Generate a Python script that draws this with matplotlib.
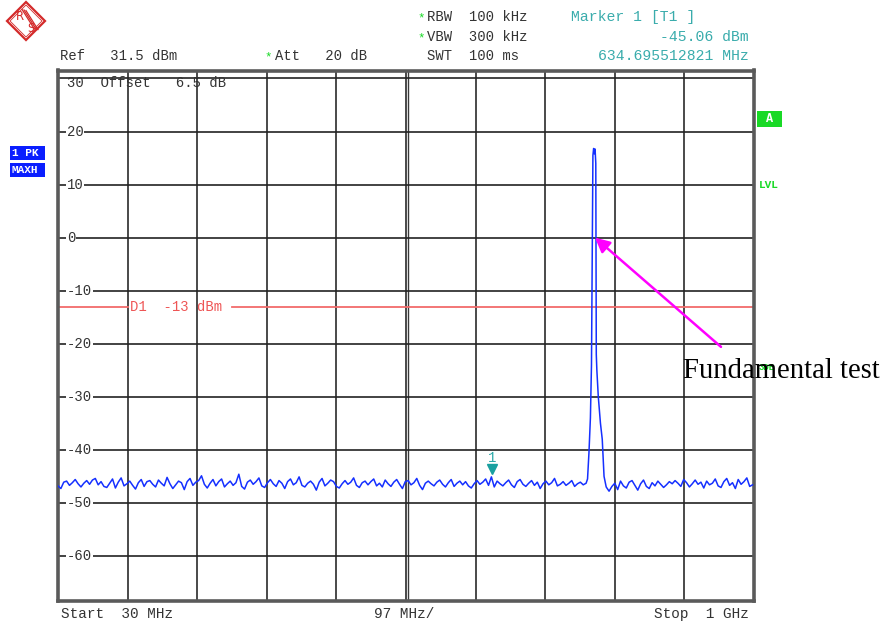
import numpy as np
import matplotlib
matplotlib.use("Agg")
import matplotlib.pyplot as plt
from matplotlib.patches import Polygon, Rectangle
from matplotlib.transforms import offset_copy, blended_transform_factory

# ---------------- data ----------------
start_mhz = 30.0
stop_mhz = 1000.0
ref_level = 31.5
y_bottom = -68.5
y_ticks = [30, 20, 10, 0, -10, -20, -30, -40, -50, -60]
x_grid = [30 + 97 * i for i in range(11)]
d1_level = -13.0

noise_step = 4.0
noise_left = [
    -46.8, -47.3, -46.1, -45.9, -46.7, -46.2, -45.6, -46.4, -47.0, -46.3,
    -45.8, -46.5, -45.7, -45.4, -46.6, -46.0, -46.9, -47.1, -46.3, -45.5,
    -47.2, -46.1, -45.3, -46.8, -46.4, -45.9, -46.7, -47.4, -46.2, -45.6,
    -46.9, -46.0, -45.8, -46.5, -47.0, -45.7, -46.3, -46.8, -45.2, -46.4,
    -47.3, -46.6, -45.9, -46.2, -47.5, -46.0, -45.4, -46.7, -46.1, -45.8,
    -44.9, -46.5, -47.2, -46.3, -45.6, -46.8, -46.0, -45.5, -47.0, -46.4,
    -45.9, -46.7, -46.2, -44.6, -46.9, -47.4, -46.1, -45.7, -46.5, -46.0,
    -45.3, -46.8, -47.1, -46.2, -45.6, -46.4, -46.9, -45.8, -46.3, -47.3,
    -46.0, -45.5, -46.6, -46.2, -45.1, -46.7, -47.0, -46.3, -45.9, -46.5,
    -47.6, -46.1, -45.4, -46.8, -46.3, -45.7, -46.0, -46.9, -47.2, -46.4,
    -45.8, -46.5, -46.1, -45.3, -46.7, -47.1, -46.2, -45.9, -46.6, -46.0,
    -45.5, -46.8, -46.3, -47.0, -45.7, -46.4, -46.9, -46.1, -45.6, -46.5,
    -47.3, -46.0, -45.8, -46.6, -46.2, -45.4, -46.7, -47.5, -46.3, -45.9,
    -46.4, -46.8, -46.1, -45.7, -46.5, -47.0, -46.2, -45.6, -46.9, -46.3,
    -45.9, -46.6, -46.0, -46.8, -47.2, -46.4, -45.8, -46.5, -46.1, -45.5,
    -46.7, -45.1, -47.0, -45.9, -46.4, -46.8, -46.2, -45.7, -46.6, -47.1,
    -46.0, -45.6, -46.5, -46.9, -46.3, -45.8, -46.7, -46.1, -47.3, -46.4,
    -45.9, -46.6, -46.2, -45.4, -46.8, -46.5, -46.0, -46.7, -46.3, -45.8,
    -46.9, -46.4, -46.1, -46.6, -46.3,
]
peak_freq = [768, 770, 772, 773.5, 774.5, 775.5, 776.5, 777.5, 778.5, 779.5,
             780.2, 781, 783, 786, 788.5, 791, 794]
peak_db = [-45.5, -40.5, -34.0, -24.0, -5.0, 15.5, 16.8, 15.8, 16.7, 14.0,
           -22.0, -25.0, -30.0, -35.0, -38.0, -45.0, -47.0]
noise_right_start = 798.0
noise_right = [
    -47.8, -46.9, -46.3, -47.5, -45.9, -46.8, -47.2, -46.1, -45.8, -46.7,
    -47.6, -46.4, -45.7, -46.9, -47.3, -46.2, -46.8, -45.9, -46.5, -47.1,
    -46.6, -46.0, -46.4, -45.8, -46.3, -46.9, -45.6, -46.2, -47.0, -46.4,
    -45.7, -46.5, -46.1, -47.2, -45.9, -46.6, -46.3, -45.5, -46.8, -47.1,
    -46.0, -45.4, -46.7, -46.2, -47.3, -45.6, -46.5, -46.0, -45.3, -46.9,
    -46.6,
]
marker_freq = 634.695512821
marker_db = -45.06
arrow_tip = (778.4, 0.0)
arrow_tail = (954.0, -20.6)

# ---------------- figure ----------------
W, H = 880, 625
fig = plt.figure(figsize=(W / 100, H / 100), dpi=100)
fig.patch.set_facecolor("white")

L, R, T, B = 58, 754, 70.5, 601
ax = fig.add_axes([L / W, 1 - B / H, (R - L) / W, (B - T) / H])
ax.set_xlim(start_mhz, stop_mhz)
ax.set_ylim(y_bottom, ref_level)
ax.set_xticks([])
ax.set_yticks([])
for s in ax.spines.values():
    s.set_color("#5a5a5a")
    s.set_linewidth(2.6)

grid_col = "#222222"
for xv in x_grid[1:-1]:
    ax.axvline(xv, color="#3a3a3a", lw=1.3, zorder=1)
# double centre line
ax.axvline(x_grid[5] + 2.8, color="#3a3a3a", lw=1.0, zorder=1)
for yv in y_ticks:
    ax.axhline(yv, color=grid_col, lw=1.2, zorder=1)

mono = "Liberation Mono"
trl = blended_transform_factory(ax.transAxes, ax.transData)
for yv in y_ticks:
    if yv == 30:
        ax.text(0.0125, yv - 0.8, "30  Offset   6.5 dB", transform=trl,
                family=mono, fontsize=10, color="#333333", va="center",
                ha="left", zorder=3)
        continue
    ax.text(0.0125, yv, str(yv), transform=trl, family=mono, fontsize=10,
            color="#333333", va="center", ha="left", zorder=3,
            bbox=dict(facecolor="white", edgecolor="none", pad=0.6))

# D1 line, split around its label
d1_gap = (x_grid[1], x_grid[1] + 146)
ax.plot([start_mhz, d1_gap[0]], [d1_level, d1_level], color="#f26b6b",
        lw=1.3, zorder=2)
ax.plot([d1_gap[1], stop_mhz], [d1_level, d1_level], color="#f26b6b",
        lw=1.3, zorder=2)
ax.text(x_grid[1] + 3, d1_level, "D1  -13 dBm", family=mono,
        fontsize=10, color="#ee5555", va="center", ha="left", zorder=3)

# trace
f_left = start_mhz + noise_step * np.arange(len(noise_left))
f_right = noise_right_start + noise_step * np.arange(len(noise_right))
freq = np.concatenate([f_left, peak_freq, f_right])
db = np.concatenate([noise_left, peak_db, noise_right])
ax.plot(freq, db, color="#1530ff", lw=1.1, zorder=4, clip_on=True)

# marker
mk_tr = offset_copy(ax.transData, fig=fig, y=8, units="dots")
ax.plot([marker_freq], [marker_db], marker="v", ms=7, color="#1aa0a0",
        transform=mk_tr, zorder=5)
lb_tr = offset_copy(ax.transData, fig=fig, y=19, units="dots")
ax.text(marker_freq, marker_db, "1", transform=lb_tr, family=mono,
        fontsize=10, color="#2aa8a8", ha="center", va="center", zorder=5)

# arrow
ax.annotate("", xy=arrow_tip, xytext=arrow_tail,
            arrowprops=dict(arrowstyle="-|>", color="#ff00ff", lw=1.8,
                            mutation_scale=22, shrinkA=0, shrinkB=0),
            annotation_clip=False, zorder=6)

# ---------------- overlay (pixel coords) ----------------
ov = fig.add_axes([0, 0, 1, 1], zorder=10)
ov.set_xlim(0, W)
ov.set_ylim(H, 0)
ov.axis("off")
ov.patch.set_alpha(0)

txt = "#333333"
teal = "#3aacac"
green = "#19d926"


def t(x, y, s, **kw):
    base = dict(family=mono, fontsize=10, color=txt, va="center", ha="left")
    base.update(kw)
    ov.text(x, y, s, **base)


t(417, 18, "*", color=green, fontsize=9)
t(427, 17, "RBW  100 kHz")
t(417, 38, "*", color=green, fontsize=9)
t(427, 37, "VBW  300 kHz")
t(427, 56, "SWT  100 ms")
t(571, 17, "Marker 1 [T1 ]", color=teal, fontsize=10.6)
t(749, 37, "-45.06 dBm", color=teal, ha="right", fontsize=10.6)
t(749, 56, "634.695512821 MHz", color=teal, ha="right", fontsize=10.6)
t(60, 56, "Ref   31.5 dBm")
t(264, 57, "*", color=green, fontsize=9)
t(275, 56, "Att   20 dB")
t(61, 614, "Start  30 MHz", fontsize=10.4)
t(374, 614, "97 MHz/", fontsize=10.4)
t(749, 614, "Stop  1 GHz", ha="right", fontsize=10.4)

# left blue boxes
for (y0, s) in [(153, "1 PK"), (170, "MAXH")]:
    ov.add_patch(Rectangle((10, y0 - 7), 35, 14, facecolor="#0a1eff",
                           edgecolor="none"))
    t(12, y0, s, color="white", fontsize=8, fontweight="bold")

# right green labels
ov.add_patch(Rectangle((757, 111), 25, 16, facecolor=green, edgecolor="none"))
t(769.5, 119, "A", color="white", fontsize=8.5, fontweight="bold", ha="center")
t(759, 185, "LVL", color=green, fontsize=8, fontweight="bold")
t(759, 367, "3DB", color=green, fontsize=6.5, fontweight="bold")

ov.text(683, 371, "Fundamental test", family="Liberation Serif", fontsize=20.6,
        color="black", va="center", ha="left")

# R&S logo
cx, cy, r = 26, 21, 19
red = "#d42a2a"
ov.add_patch(Polygon([(cx, cy - r), (cx + r, cy), (cx, cy + r), (cx - r, cy)],
                     closed=True, fill=False, edgecolor=red, lw=1.6))
ov.add_patch(Polygon([(cx, cy - r + 3), (cx + r - 3, cy), (cx, cy + r - 3),
                      (cx - r + 3, cy)],
                     closed=True, fill=False, edgecolor=red, lw=0.6))
for d in (-2.0, 0.0, 2.0):
    ov.plot([cx - 2 + d, cx + 10 + d], [cy - 11 + d * 0.3, cy + 8 + d * 0.3],
            color=red, lw=0.9)
ov.text(cx - 6, cy - 5, "R", family="DejaVu Sans", fontsize=8.5, color=red,
        ha="center", va="center")
ov.text(cx + 5, cy + 7, "S", family="DejaVu Sans", fontsize=8.5, color=red,
        ha="center", va="center")

fig.savefig("out.png", dpi=100, facecolor="white")
